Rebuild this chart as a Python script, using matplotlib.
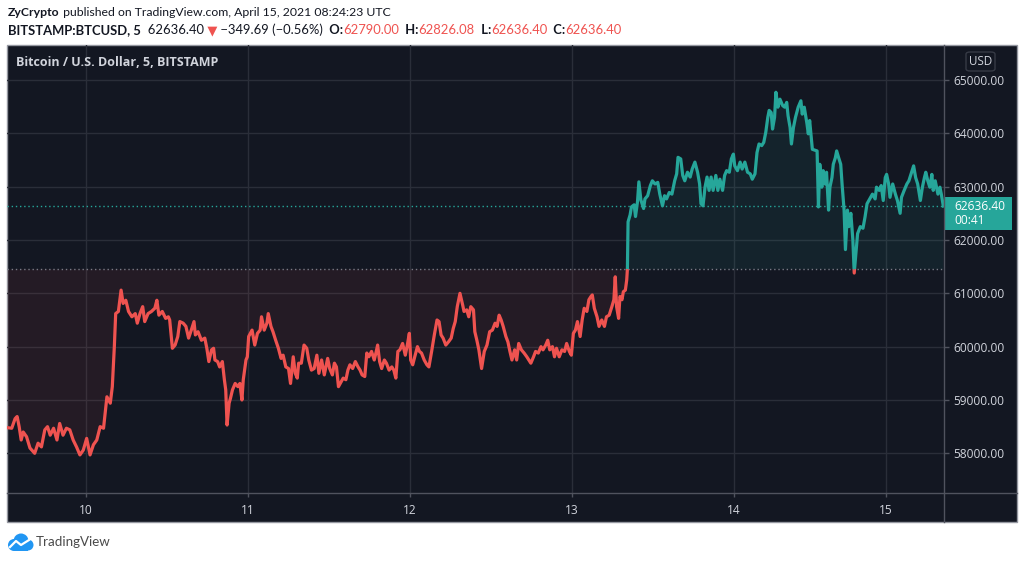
import matplotlib
matplotlib.use('Agg')
import matplotlib.pyplot as plt
from matplotlib.patches import Rectangle, FancyBboxPatch, Circle
from matplotlib.lines import Line2D
import numpy as np

# BTCUSD 5m, Bitstamp - hours counted from April 10 00:00 UTC
hours = [
    # Apr 9 -> 10
    -11.6, -11.0, -10.5, -10.2, -9.9, -9.6, -9.3, -8.8, -8.3, -7.6,
    -7.1, -6.6, -6.1, -5.7, -5.3, -4.8, -4.3, -3.9, -3.4, -2.9,
    -2.4, -1.9, -1.4, -0.9, -0.4, 0.1, 0.6, 1.1, 1.6, 2.1,
    2.6, 3.1, 3.6, 3.9, 4.2, 4.4, 4.8, 5.2, 5.5, 5.9,
    6.3, 6.8, 7.3, 7.6, 8.0, 8.4, 8.7, 9.2, 9.7, 10.2,
    10.5, 10.8, 11.3, 11.8,
    # Apr 10 -> 11
    12.2, 12.4, 12.8, 13.2, 13.6, 13.9, 14.4, 14.8, 15.2, 15.6,
    16.0, 16.2, 16.6, 17.1, 17.6, 17.9, 18.2, 18.6, 18.9, 19.1,
    19.5, 19.8, 20.2, 20.5, 20.7, 20.9, 21.2, 21.4, 21.7, 22.1,
    22.5, 22.8, 23.1, 23.3, 23.7, 23.9, 24.1, 24.6, 25.0, 25.4,
    25.8, 26.0, 26.4, 26.8, 27.0, 27.4, 27.7, 28.1, 28.5, 28.9,
    29.2, 29.6, 30.0, 30.3, 30.7, 31.0, 31.3, 31.5, 31.9, 32.3,
    32.7, 33.0, 33.4, 33.8, 34.2, 34.5, 34.9, 35.3,
    # Apr 11 -> 12
    35.8, 36.1, 36.5, 36.8, 37.1, 37.4, 37.8, 38.1, 38.5, 38.8,
    39.1, 39.5, 39.9, 40.3, 40.6, 40.9, 41.3, 41.6, 41.9, 42.3,
    42.7, 43.0, 43.2, 43.5, 43.8, 44.2, 44.5, 44.9, 45.3, 45.6,
    45.9, 46.2, 46.5, 46.9, 47.3, 47.6, 47.9, 48.1, 48.4, 48.7,
    49.1, 49.4, 49.7, 50.1, 50.5, 50.8, 51.2, 51.6, 52.0, 52.3,
    52.6, 52.9, 53.3, 53.7, 54.1, 54.4, 54.7, 55.0, 55.4, 55.8,
    56.0, 56.4, 56.7, 57.0, 57.4, 57.6, 57.9, 58.2, 58.6, 59.0,
    59.4, 59.8,
    # Apr 12 -> 13
    60.2, 60.6, 60.9, 61.2, 61.5, 61.8, 62.2, 62.5, 62.8, 63.1,
    63.5, 63.8, 64.1, 64.5, 64.9, 65.3, 65.6, 65.9, 66.3, 66.6,
    67.0, 67.4, 67.7, 68.1, 68.4, 68.7, 69.1, 69.4, 69.7, 70.1,
    70.5, 70.9, 71.2, 71.6, 71.9, 72.2, 72.5, 72.8, 73.2, 73.5,
    73.8, 74.2, 74.5, 74.8, 75.0, 75.3, 75.7, 76.0, 76.4, 76.8,
    77.1, 77.5, 77.9, 78.2, 78.4, 78.6, 78.9, 79.1, 79.4, 79.6,
    79.9, 80.1, 80.2, 80.3, 80.6, 80.8, 81.2, 81.4, 81.7, 81.9,
    82.2, 82.6,
    # Apr 13 -> 14
    82.8, 83.2, 83.6, 83.9, 84.3, 84.7, 85.0, 85.4, 85.7, 86.0,
    86.4, 86.8, 87.2, 87.5, 87.7, 88.1, 88.4, 88.7, 89.1, 89.5,
    89.8, 90.2, 90.6, 90.9, 91.1, 91.4, 91.7, 92.0, 92.3, 92.6,
    92.9, 93.3, 93.6, 93.9, 94.3, 94.6, 94.9, 95.3, 95.6, 95.9,
    96.1, 96.5, 96.9, 97.2, 97.6, 98.0, 98.4, 98.7, 99.1, 99.4,
    99.7, 100.1, 100.4, 100.7, 101.0, 101.2, 101.5, 101.7, 102.0, 102.2,
    102.5, 102.8, 103.2, 103.5, 103.8, 104.0, 104.3, 104.5, 104.8, 105.1,
    105.5, 105.9, 106.1, 106.4, 106.8, 107.0, 107.2, 107.6,
    # Apr 14 -> 15
    108.3, 108.5, 108.7, 109.0, 109.2, 109.5, 109.7, 110.0, 110.2, 110.5,
    110.7, 111.0, 111.2, 111.5, 111.8, 112.0, 112.3, 112.5, 112.8, 113.0,
    113.3, 113.6, 113.8, 114.1, 114.3, 114.7, 115.1, 115.4, 115.7, 116.1,
    116.5, 116.9, 117.1, 117.5, 117.8, 118.1, 118.4, 118.6, 118.9, 119.1,
    119.5, 119.9, 120.2, 120.6, 120.8, 121.2, 121.6, 121.9, 122.2, 122.6,
    122.9, 123.2, 123.6, 123.9, 124.2, 124.4, 124.7, 125.0, 125.3, 125.5,
    125.8, 126.2, 126.5, 126.7, 127.0,
]

prices = [
    58480, 58470, 58650, 58690, 58500, 58250, 58400, 58310, 58100, 58000,
    58190, 58120, 58440, 58500, 58340, 58470, 58250, 58560, 58340, 58470,
    58440, 58250, 58120, 57970, 58060, 58280, 57970, 58160, 58250, 58500,
    58470, 59060, 58940, 59250, 60000, 60620, 60660, 61060, 60810, 60870,
    60660, 60560, 60620, 60440, 60620, 60750, 60470, 60620, 60660, 60720,
    60870, 60590, 60660, 60530,

    60560, 60500, 59970, 60030, 60190, 60470, 60440, 60380, 60160, 60310,
    60470, 60220, 60280, 60120, 60160, 59970, 59720, 59940, 59970, 59750,
    59720, 59620, 59720, 59380, 59190, 58530, 58940, 59030, 59190, 59310,
    59250, 59310, 59000, 59380, 59750, 59810, 60190, 60310, 60030, 60250,
    60310, 60560, 60310, 60440, 60620, 60380, 60280, 60120, 59970, 59780,
    59840, 59620, 59590, 59310, 59810, 59500, 59410, 59690, 59690, 60030,
    59970, 59750, 59560, 59590, 59840, 59500, 59750, 59470,

    59780, 59590, 59470, 59690, 59620, 59250, 59340, 59410, 59380, 59560,
    59660, 59590, 59720, 59620, 59560, 59470, 59440, 59880, 59810, 59910,
    59750, 59910, 60030, 59720, 59590, 59750, 59690, 59560, 59620, 59560,
    59410, 59910, 59940, 60060, 59840, 60030, 60250, 59750, 59660, 59810,
    60000, 59910, 59880, 59750, 59660, 59620, 59910, 60220, 60500, 60470,
    60220, 60160, 60030, 60090, 60160, 60340, 60470, 60750, 61000, 60780,
    60660, 60690, 60560, 60750, 60690, 60280, 60120, 59940, 59590, 59910,
    60030, 60280,

    60310, 60440, 60380, 60590, 60500, 60380, 60190, 60090, 59910, 59750,
    59940, 59750, 60060, 59940, 59880, 59810, 59750, 59690, 59810, 59910,
    59880, 60000, 59940, 60030, 60120, 59940, 60000, 59810, 59970, 59810,
    59940, 59910, 60060, 59910, 59840, 60250, 60310, 60470, 60190, 60500,
    60720, 60660, 60880, 60940, 60970, 60720, 60560, 60380, 60500, 60380,
    60560, 60590, 60750, 60880, 61310, 60750, 60530, 60940, 60880, 61030,
    61060, 61250, 61450, 62340, 62470, 62620, 62660, 62440, 62720, 63090,
    62750, 62590,

    62770, 62830, 63020, 63110, 63050, 63080, 62860, 62640, 62830, 62770,
    62890, 62860, 63110, 63240, 63550, 63520, 63210, 63110, 63270, 63180,
    63330, 63460, 63270, 63050, 62680, 62640, 62990, 63180, 62930, 63180,
    62930, 63210, 62930, 63140, 62930, 63210, 63300, 63270, 63520, 63610,
    63390, 63300, 63460, 63330, 63460, 63270, 63240, 63140, 63240, 63640,
    63800, 63770, 63830, 64020, 64300, 64430, 64390, 64080, 64300, 64770,
    64490, 64640, 64520, 64490, 64580, 64330, 64110, 63800, 64110, 64300,
    64490, 64610, 64360, 64490, 64180, 63990, 64240, 63700,

    63670, 62620, 63420, 62990, 63300, 63050, 63270, 62560, 62990, 63170,
    63420, 63540, 63670, 63540, 63420, 63050, 62560, 61820, 62560, 62250,
    62500, 62000, 61380, 61820, 62120, 62250, 62220, 62430, 62680, 62770,
    62860, 62770, 62990, 62930, 63020, 62740, 63170, 63230, 63050, 62800,
    63050, 62860, 62740, 62500, 62800, 62930, 63050, 63110, 63230, 63390,
    63170, 63050, 62740, 62990, 63170, 63270, 63110, 62990, 63230, 62930,
    63110, 62860, 62990, 62860, 62636.40,
]
assert len(hours) == len(prices)

baseline = 61450
last_price = 62636.40
price_ticks = [58000, 59000, 60000, 61000, 62000, 63000, 64000, 65000]
day_ticks = [0, 24, 48, 72, 96, 118.5]
day_labels = ['10', '11', '12', '13', '14', '15']

BG = '#131722'
GRID = '#2a2e39'
SEP = '#50535e'
TXT = '#d1d4dc'
TEAL = '#26a69a'
RED = '#ef5350'
FONT = ['Open Sans', 'DejaVu Sans']

W, H = 1024, 561
fig = plt.figure(figsize=(W / 100, H / 100), dpi=100, facecolor='white')


def fx(px):
    return px / W


def fy(py):
    return 1 - py / H


# dark chart panel
fig.add_artist(Rectangle((fx(7), fy(522)), (1017 - 7) / W, (522 - 45) / H,
                         transform=fig.transFigure, facecolor=BG,
                         edgecolor='#9598a1', lw=1, zorder=-1))

ax = fig.add_axes([fx(7), fy(493), (944 - 7) / W, (493 - 45) / H])
ax.set_facecolor('none')

x = np.array(hours)
y = np.array(prices)
xmin, xmax = -11.7, 127.1
ymin, ymax = 57256, 65656

ax.fill_between(x, y, baseline, where=y >= baseline, interpolate=True,
                color=TEAL, alpha=0.09, lw=0)
ax.fill_between(x, y, baseline, where=y <= baseline, interpolate=True,
                color=RED, alpha=0.08, lw=0)

up, = ax.plot(x, y, color=TEAL, lw=2.3, solid_joinstyle='round')
dn, = ax.plot(x, y, color=RED, lw=2.3, solid_joinstyle='round')
up.set_clip_path(Rectangle((xmin, baseline), xmax - xmin, ymax - baseline,
                           transform=ax.transData))
dn.set_clip_path(Rectangle((xmin, ymin), xmax - xmin, baseline - ymin,
                           transform=ax.transData))

ax.axhline(last_price, color=TEAL, lw=1, ls=(0, (1, 2)))
ax.axhline(baseline, color='#787b86', lw=1, ls=(0, (1, 2)))

ax.set_xlim(xmin, xmax)
ax.set_ylim(ymin, ymax)
ax.set_xticks(day_ticks)
ax.set_xticklabels(day_labels)
ax.set_yticks(price_ticks)
ax.set_yticklabels([f'{v:.2f}' for v in price_ticks])
ax.yaxis.tick_right()
ax.grid(color=GRID, lw=1)
ax.set_axisbelow(True)
for s in ax.spines.values():
    s.set_visible(False)
ax.tick_params(axis='y', length=3.6, width=1, color=SEP, pad=3.2,
               labelcolor=TXT, labelsize=8.6)
ax.tick_params(axis='x', length=3, width=1, color=SEP, pad=5,
               labelcolor=TXT, labelsize=8.6)
for lab in ax.get_xticklabels() + ax.get_yticklabels():
    lab.set_family(FONT)

# panel separators
fig.add_artist(Line2D([fx(944), fx(944)], [fy(45), fy(522)],
                      transform=fig.transFigure, color=SEP, lw=1))
fig.add_artist(Line2D([fx(7), fx(1017)], [fy(493), fy(493)],
                      transform=fig.transFigure, color=SEP, lw=1))

# USD badge
fig.add_artist(FancyBboxPatch((fx(966), fy(71)), 29 / W, 19 / H,
                              boxstyle='round,pad=0,rounding_size=0.004',
                              transform=fig.transFigure, facecolor=BG,
                              edgecolor='#363a45', lw=1))
fig.text(fx(980.5), fy(61.5), 'USD', color=TXT, fontsize=8.4, family=FONT,
         ha='center', va='center')

# last price label
fig.add_artist(Rectangle((fx(944), fy(230)), (1012 - 944) / W, 33 / H,
                         transform=fig.transFigure, facecolor=TEAL, lw=0))
fig.text(fx(954), fy(206), f'{last_price:.2f}', color='white', fontsize=8.6,
         family=FONT, va='center')
fig.text(fx(954), fy(221), '00:41', color='white', fontsize=8.6,
         family=FONT, va='center')

fig.text(fx(16), fy(63), 'Bitcoin / U.S. Dollar, 5, BITSTAMP', color=TXT,
         fontsize=9, fontweight='bold', family=FONT, va='center')

# header
renderer = fig.canvas.get_renderer()
HFONT = ['Lato', 'DejaVu Sans']


def run(px, py, parts, size):
    for s, weight, color in parts:
        t = fig.text(fx(px), fy(py), s, fontsize=size, fontweight=weight,
                     color=color, family=HFONT, va='center', ha='left')
        px += t.get_window_extent(renderer).width
    return px


DARK = '#131722'
run(8, 12, [('ZyCrypto', 'bold', DARK),
            (' published on TradingView.com, April 15, 2021 08:24:23 UTC', 'normal', DARK)],
    8.8)
run(8, 30, [('BITSTAMP:BTCUSD, 5', 'bold', DARK),
            ('  62636.40', 'normal', DARK),
            (' \u25bc', 'normal', RED),
            (' \u2212349.69 (\u22120.56%)', 'normal', DARK),
            ('  O:', 'bold', DARK), ('62790.00', 'normal', RED),
            ('  H:', 'bold', DARK), ('62826.08', 'normal', RED),
            ('  L:', 'bold', DARK), ('62636.40', 'normal', RED),
            ('  C:', 'bold', DARK), ('62636.40', 'normal', RED)],
    9.4)

# TradingView logo
lax = fig.add_axes([fx(7), fy(552), 27 / W, 20 / H])
lax.set_xlim(0, 27)
lax.set_ylim(0, 20)
lax.axis('off')
LOGO = '#2196f3'
for cx, cy, r in [(7, 7, 6), (14, 11, 7.5), (21, 7, 5.5)]:
    lax.add_patch(Circle((cx, cy), r, color=LOGO, lw=0))
lax.add_patch(Rectangle((7, 1), 14, 6, color=LOGO, lw=0))
lax.plot([3, 9, 14, 22], [5, 11, 7, 12], color='white', lw=1.6)
fig.text(fx(36), fy(542), 'TradingView', color='#4a4a4a', fontsize=9.6,
         family=HFONT, va='center')

fig.savefig('out.png', dpi=100, facecolor='white')
